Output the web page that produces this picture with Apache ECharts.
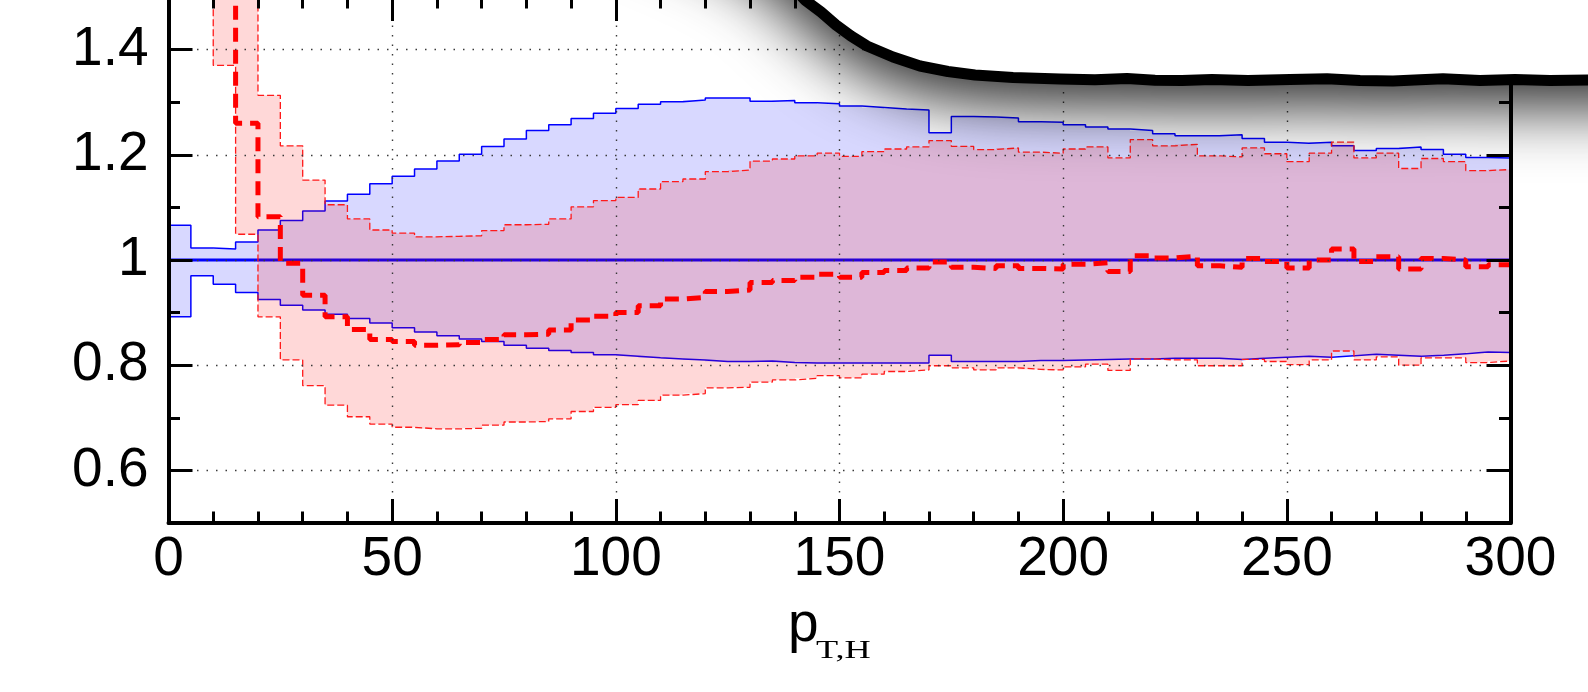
<!DOCTYPE html>
<html>
<head>
<meta charset="utf-8">
<title>Ratio vs p_T,H</title>
<script src="https://cdn.jsdelivr.net/npm/echarts@6.0.0/dist/echarts.min.js"></script>
<style>
  html, body { margin: 0; padding: 0; background: #fff; }
  #chart { width: 1588px; height: 692px; }
</style>
</head>
<body>
<div id="chart"></div>
<script>
// Histogram bin edges in p_T,H (5 GeV bins)
const binEdges = [0, 5, 10, 15, 20, 25, 30, 35, 40, 45, 50, 55, 60, 65, 70, 75, 80, 85, 90, 95,
  100, 105, 110, 115, 120, 125, 130, 135, 140, 145, 150, 155, 160, 165, 170, 175, 180, 185, 190, 195,
  200, 205, 210, 215, 220, 225, 230, 235, 240, 245, 250, 255, 260, 265, 270, 275, 280, 285, 290, 295, 300];

// Blue prediction: central ratio and uncertainty band, bins 0..59
const blueCentral = [1, 1, 1, 1, 1, 1, 1, 1, 1, 1, 1, 1, 1, 1, 1, 1, 1, 1, 1, 1,
  1, 1, 1, 1, 1, 1, 1, 1, 1, 1, 1, 1, 1, 1, 1, 1, 1, 1, 1, 1,
  1, 1, 1, 1, 1, 1, 1, 1, 1, 1, 1, 1, 1, 1, 1, 1, 1, 1, 1, 1];
const blueUpper = [1.066, 1.023, 1.021, 1.034, 1.057, 1.075, 1.093, 1.112, 1.125, 1.145,
  1.159, 1.173, 1.188, 1.201, 1.216, 1.230, 1.246, 1.257, 1.269, 1.279,
  1.288, 1.296, 1.301, 1.304, 1.308, 1.308, 1.302, 1.303, 1.299, 1.297,
  1.293, 1.290, 1.287, 1.285, 1.242, 1.273, 1.272, 1.270, 1.263, 1.262,
  1.257, 1.253, 1.249, 1.246, 1.240, 1.236, 1.236, 1.238, 1.231, 1.224,
  1.222, 1.224, 1.217, 1.208, 1.212, 1.215, 1.210, 1.201, 1.195, 1.194];
const blueLower = [0.892, 0.970, 0.954, 0.938, 0.925, 0.914, 0.905, 0.897, 0.889, 0.880,
  0.871, 0.863, 0.856, 0.850, 0.845, 0.838, 0.832, 0.828, 0.824, 0.820,
  0.817, 0.814, 0.812, 0.810, 0.807, 0.807, 0.808, 0.805, 0.804, 0.804,
  0.804, 0.804, 0.804, 0.804, 0.819, 0.807, 0.807, 0.807, 0.809, 0.809,
  0.810, 0.811, 0.812, 0.812, 0.813, 0.813, 0.813, 0.811, 0.813, 0.815,
  0.817, 0.815, 0.818, 0.821, 0.819, 0.817, 0.819, 0.822, 0.825, 0.824];

// Red prediction starts at bin 2 (p_T,H = 10)
const redFirstBin = 2;
const redCentral = [1.65, 1.260, 1.082, 0.994, 0.933, 0.892, 0.868, 0.849,
  0.845, 0.838, 0.839, 0.843, 0.849, 0.858, 0.859, 0.867, 0.886, 0.893,
  0.900, 0.913, 0.926, 0.929, 0.940, 0.943, 0.957, 0.961, 0.967, 0.973,
  0.967, 0.976, 0.980, 0.985, 0.996, 0.986, 0.984, 0.989, 0.984, 0.983,
  0.992, 0.995, 0.978, 1.008, 1.004, 1.007, 0.989, 0.986, 1.003, 0.997,
  0.985, 1.000, 1.021, 0.997, 1.006, 0.983, 1.003, 1.000, 0.987, 0.991];
const redUpper = [1.80, 1.80, 1.313, 1.217, 1.152, 1.105, 1.078, 1.057,
  1.051, 1.044, 1.045, 1.046, 1.056, 1.067, 1.068, 1.078, 1.101, 1.113,
  1.119, 1.135, 1.149, 1.154, 1.168, 1.171, 1.188, 1.192, 1.198, 1.203,
  1.197, 1.206, 1.211, 1.215, 1.227, 1.216, 1.210, 1.213, 1.205, 1.203,
  1.211, 1.215, 1.194, 1.229, 1.217, 1.220, 1.198, 1.196, 1.213, 1.202,
  1.187, 1.203, 1.224, 1.194, 1.203, 1.174, 1.193, 1.187, 1.170, 1.172];
const redLower = [1.370, 1.049, 0.892, 0.810, 0.761, 0.724, 0.702, 0.688,
  0.682, 0.679, 0.679, 0.680, 0.686, 0.692, 0.693, 0.698, 0.712, 0.720,
  0.725, 0.733, 0.743, 0.746, 0.757, 0.758, 0.768, 0.772, 0.775, 0.780,
  0.776, 0.783, 0.788, 0.791, 0.799, 0.795, 0.791, 0.795, 0.792, 0.791,
  0.797, 0.802, 0.790, 0.812, 0.810, 0.810, 0.799, 0.799, 0.811, 0.807,
  0.801, 0.810, 0.827, 0.810, 0.816, 0.800, 0.814, 0.814, 0.805, 0.808];

// Axis ticks
const xMajorTicks = [0, 50, 100, 150, 200, 250, 300];
const yMajorTicks = [0.6, 0.8, 1.0, 1.2, 1.4];
const xRange = [0, 300];
const yRange = [0.5, 1.5];

// Histogram values -> [edge, value] points for a step line (last bin closed at its right edge).
// closeFrom: optional value the outline starts from, giving the band its left vertical edge.
function stepPoints(values, startBin, closeFrom) {
  const pts = values.map((v, i) => [binEdges[startBin + i], v]);
  pts.push([binEdges[startBin + values.length], values[values.length - 1]]);
  if (closeFrom !== undefined) pts.unshift([binEdges[startBin], closeFrom]);
  return pts;
}
// Band bins as [xLow, xHigh, lower, upper]
function bandBins(upper, lower, startBin) {
  return upper.map((u, i) => [binEdges[startBin + i], binEdges[startBin + i + 1], lower[i], u]);
}

const FONT = 'Liberation Sans, Arial, Helvetica, sans-serif';
const dotted = { type: [1.5, 8], color: '#3a3a3a', width: 1.4 };
const axisBlack = { color: '#000', width: 4 };
const tickStyle = { color: '#000', width: 3 };
const AXZ = 6;

const baseLine = {
  type: 'line', step: 'end', symbol: 'none', silent: true,
  emphasis: { disabled: true }, animation: false, clip: true
};

function bandSeries(name, bins, fill, z) {
  return {
    type: 'custom', name: name, z: z, silent: true, animation: false, clip: true,
    data: bins,
    encode: { x: [0, 1], y: [2, 3] },
    renderItem: function (params, api) {
      const pTop = api.coord([api.value(0), api.value(3)]);
      const pBot = api.coord([api.value(1), api.value(2)]);
      const x0 = Math.round(pTop[0]);
      const x1 = Math.round(pBot[0]);
      return {
        type: 'rect',
        shape: { x: x0, y: pTop[1], width: x1 - x0, height: pBot[1] - pTop[1] },
        style: { fill: fill }
      };
    }
  };
}

const blueEdge = { color: '#0000ff', width: 1.5 };
const redEdge = { color: '#ff1a1a', width: 1.3, type: [7, 3] };

const series = [
  bandSeries('blue-band', bandBins(blueUpper, blueLower, 0), 'rgba(0,0,255,0.153)', 2),
  Object.assign({}, baseLine, { name: 'blue-low', z: 2, data: stepPoints(blueLower, 0), lineStyle: blueEdge }),
  Object.assign({}, baseLine, { name: 'blue-up', z: 2, data: stepPoints(blueUpper, 0), lineStyle: blueEdge }),
  Object.assign({}, baseLine, {
    name: 'blue-central', z: 3,
    data: stepPoints(blueCentral, 0), lineStyle: { color: '#0000ff', width: 3 }
  }),
  bandSeries('red-band', bandBins(redUpper, redLower, redFirstBin), 'rgba(255,0,0,0.153)', 4),
  Object.assign({}, baseLine, { name: 'red-low', z: 4, data: stepPoints(redLower, redFirstBin, redUpper[0]), lineStyle: redEdge }),
  Object.assign({}, baseLine, { name: 'red-up', z: 4, data: stepPoints(redUpper, redFirstBin), lineStyle: redEdge }),
  Object.assign({}, baseLine, {
    name: 'red-central', z: 5,
    data: stepPoints(redCentral, redFirstBin),
    lineStyle: { color: '#ff0000', width: 5, type: [14, 8] }
  })
];

function yLabel(v) {
  const hit = yMajorTicks.find(t => Math.abs(t - v) < 1e-6);
  return hit === undefined ? '' : String(hit);
}

const xCommon = {
  type: 'value', min: xRange[0], max: xRange[1], interval: xMajorTicks[1] - xMajorTicks[0],
  z: AXZ, axisLine: { show: true, onZero: false, lineStyle: axisBlack },
  axisTick: { show: true, inside: true, length: 24, lineStyle: tickStyle },
  minorTick: { show: true, splitNumber: 5, length: 11.5, lineStyle: tickStyle }
};

const yCommon = {
  type: 'value', min: yRange[0], max: yRange[1], interval: 0.1, z: AXZ, offset: 0
};

// page edge curling over the top-right of the frame
const curve = [
  [560, -125], [640, -100], [700, -75], [740, -55], [770, -35], [790, -16], [805, 0],
  [821, 12], [836, 25], [851, 36], [867, 46], [893, 57], [920, 66], [948, 71.5], [975, 75],
  [1013, 77.5], [1060, 79], [1095, 79.8], [1127, 78.6], [1155, 80.3], [1182, 80.6], [1212, 79.4],
  [1248, 80.6], [1290, 79.4], [1327, 78.8], [1360, 80.4], [1393, 81], [1420, 79.8],
  [1443, 78.8], [1480, 80.6], [1515, 79.6], [1550, 80.6], [1588, 80], [1700, 80]
];

const option = {
  backgroundColor: '#fff',
  animation: false,
  grid: { left: 168.5, top: -3, width: 1342, height: 526, outerBoundsMode: 'none', containLabel: false },
  xAxis: [
    Object.assign({}, xCommon, {
      position: 'bottom',
      axisLabel: { show: true, fontSize: 55, fontFamily: FONT, color: '#000', margin: 9 },
      splitLine: { show: true, showMinLine: false, showMaxLine: false, lineStyle: dotted }
    }),
    Object.assign({}, xCommon, {
      position: 'top', axisLabel: { show: false }, splitLine: { show: false }
    })
  ],
  yAxis: [
    Object.assign({}, yCommon, {
      position: 'left',
      axisLine: { show: true, onZero: false, lineStyle: axisBlack },
      axisTick: { show: true, inside: true, length: 11.5, lineStyle: tickStyle },
      axisLabel: { show: true, fontSize: 55, fontFamily: FONT, color: '#000', margin: 20, formatter: yLabel },
      splitLine: { show: true, lineStyle: Object.assign({}, dotted, { color: ['rgba(0,0,0,0)', '#3a3a3a'] }) }
    }),
    Object.assign({}, yCommon, {
      position: 'left',
      axisLine: { show: false, onZero: false },
      axisTick: { show: true, inside: true, length: 24, lineStyle: tickStyle, customValues: yMajorTicks },
      axisLabel: { show: false }, splitLine: { show: false }
    }),
    Object.assign({}, yCommon, {
      position: 'right',
      axisLine: { show: true, onZero: false, lineStyle: axisBlack },
      axisTick: { show: true, inside: true, length: 11.5, lineStyle: tickStyle },
      axisLabel: { show: false }, splitLine: { show: false }
    }),
    Object.assign({}, yCommon, {
      position: 'right',
      axisLine: { show: false, onZero: false },
      axisTick: { show: true, inside: true, length: 24, lineStyle: tickStyle, customValues: yMajorTicks },
      axisLabel: { show: false }, splitLine: { show: false }
    })
  ],
  series: series,
  graphic: {
    elements: [
      // curled-over page edge with its cast shadow
      {
        type: 'polygon', z: 100, silent: true,
        shape: { points: curve.concat([[1700, -400], [560, -400]]) },
        style: { fill: '#fff', shadowBlur: 64, shadowColor: 'rgba(0,0,0,0.85)', shadowOffsetY: 26 }
      },
      {
        type: 'polyline', z: 101, silent: true,
        shape: { points: curve },
        style: { stroke: '#000', lineWidth: 11, fill: null, lineJoin: 'round', lineCap: 'round' }
      },
      // x-axis title p_{T,H}
      {
        type: 'text', z: 50, x: 788, y: 626, silent: true,
        style: { text: 'p', fontSize: 55, fontFamily: FONT, fill: '#000', align: 'left', verticalAlign: 'middle' }
      },
      {
        type: 'text', z: 50, x: 816, y: 651.6, scaleX: 1.45, silent: true,
        style: { text: 'T,H', fontSize: 25, fontFamily: 'Liberation Serif, Times New Roman, serif', fill: '#000', align: 'left', verticalAlign: 'middle' }
      }
    ]
  }
};

const chart = echarts.init(document.getElementById('chart'), null, { renderer: 'canvas' });
chart.setOption(option);
</script>
</body>
</html>
